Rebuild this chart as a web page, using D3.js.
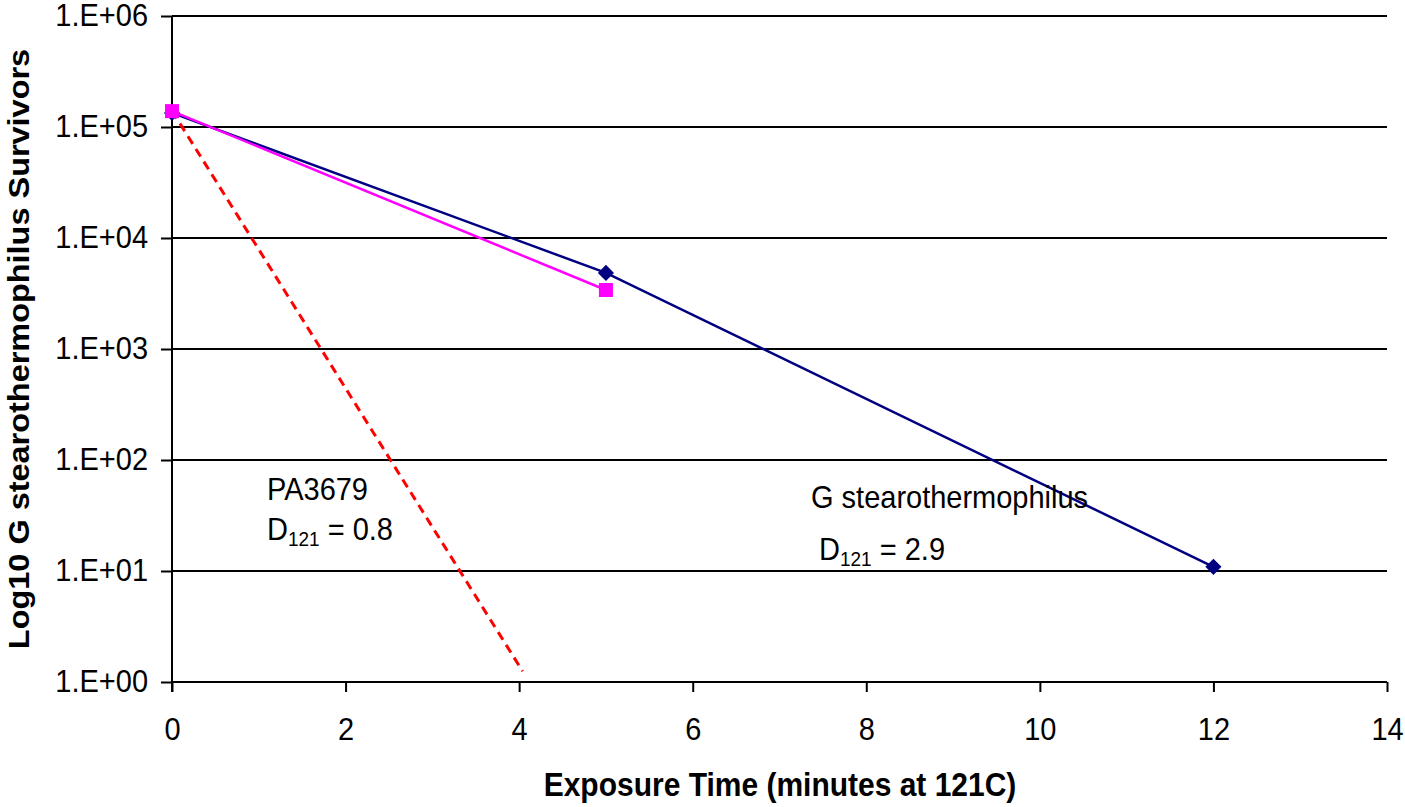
<!DOCTYPE html>
<html>
<head>
<meta charset="utf-8">
<script src="https://cdn.jsdelivr.net/npm/d3@7"></script>
<style>
  html, body { margin: 0; padding: 0; background: #fff; }
  svg { display: block; font-family: "Liberation Sans", Arial, sans-serif; }
</style>
</head>
<body>
<svg id="chart" width="1405" height="807"></svg>
<script>
// ---- data ----
const gsTime = [0, 5, 12];
const gsSurvivors = [1.34e5, 4.85e3, 10.9];
const pinkTime = [0, 5];
const pinkSurvivors = [1.39e5, 3.4e3];
const paTime = [0, 4.04];
const paSurvivors = [1.4e5, 1.25];
const xTicks = [0, 2, 4, 6, 8, 10, 12, 14];
const yTicks = [1, 10, 100, 1000, 10000, 100000, 1000000];
const yTickLabels = ["1.E+00", "1.E+01", "1.E+02", "1.E+03", "1.E+04", "1.E+05", "1.E+06"];
const xTitle = "Exposure Time (minutes at 121C)";
const yTitle = "Log10 G stearothermophilus Survivors";

// ---- layout ----
const SY = 1.1; // vertical stretch of glyphs
const FS = 29;
const svg = d3.select("#chart");
const x = d3.scaleLinear().domain([0, 14]).range([172, 1387]);
const y = d3.scaleLog().domain([1, 1e6]).range([682, 16]);

// gridlines
svg.append("g").selectAll("line").data(yTicks).join("line")
  .attr("x1", x(0)).attr("x2", x(14))
  .attr("y1", d => y(d)).attr("y2", d => y(d))
  .attr("stroke", "#000").attr("stroke-width", 2);

// y axis
const yAxis = svg.append("g").attr("transform", `translate(${x(0)},0)`)
  .call(d3.axisLeft(y).tickValues(yTicks).tickFormat((d, i) => yTickLabels[i]).tickSize(11).tickPadding(13));
yAxis.select(".domain").remove();
yAxis.append("line").attr("x1", 0).attr("x2", 0).attr("y1", y(1e6)).attr("y2", y(1) + 10)
  .attr("stroke", "#000").attr("stroke-width", 2);
yAxis.selectAll(".tick line").attr("stroke", "#000").attr("stroke-width", 2);
yAxis.selectAll(".tick text").attr("font-size", FS).attr("fill", "#000")
  .attr("font-family", "Liberation Sans, Arial, sans-serif")
  .attr("transform", `scale(1,1.05)`);

// x axis
const xAxis = svg.append("g").attr("transform", `translate(0,${y(1)})`)
  .call(d3.axisBottom(x).tickValues(xTicks).tickFormat(d3.format("d")).tickSize(10).tickPadding(22));
xAxis.select(".domain").remove();
xAxis.selectAll(".tick line").attr("stroke", "#000").attr("stroke-width", 2);
xAxis.selectAll(".tick text").attr("font-size", FS).attr("fill", "#000")
  .attr("font-family", "Liberation Sans, Arial, sans-serif")
  .attr("transform", `scale(1,${SY})`);

// series lines
const line = d3.line().x(d => x(d[0])).y(d => y(d[1]));
const paData = d3.zip(paTime, paSurvivors);
const gsData = d3.zip(gsTime, gsSurvivors);
const pinkData = d3.zip(pinkTime, pinkSurvivors);

svg.append("path").datum(paData).attr("d", line)
  .attr("fill", "none").attr("stroke", "#FF0000").attr("stroke-width", 3)
  .attr("stroke-dasharray", "9,6");
svg.append("path").datum(gsData).attr("d", line)
  .attr("fill", "none").attr("stroke", "#000080").attr("stroke-width", 2.5);
svg.append("path").datum(pinkData).attr("d", line)
  .attr("fill", "none").attr("stroke", "#FF00FF").attr("stroke-width", 2.5);

// markers
svg.append("g").selectAll("path").data(gsData).join("path")
  .attr("transform", d => `translate(${x(d[0])},${y(d[1])})`)
  .attr("d", d3.symbol(d3.symbolDiamond2, 165)())
  .attr("fill", "#000080");
svg.append("g").selectAll("rect").data(pinkData).join("rect")
  .attr("x", d => x(d[0]) - 7).attr("y", d => y(d[1]) - 7)
  .attr("width", 14).attr("height", 14)
  .attr("fill", "#FF00FF");

// annotations
function stretchedText(g, tx, ty, size, weight) {
  return g.append("text").attr("transform", `translate(${tx},${ty}) scale(1,${SY})`)
    .attr("font-size", size).attr("font-weight", weight || "normal").attr("fill", "#000");
}
const ann = svg.append("g");
stretchedText(ann, 267, 500, FS).text("PA3679");
let t = stretchedText(ann, 267, 540, FS);
t.append("tspan").text("D");
t.append("tspan").attr("font-size", 19).attr("dy", 5).text("121");
t.append("tspan").attr("dy", -5).text(" = 0.8");

stretchedText(ann, 811, 508, FS).text("G stearothermophilus");
t = stretchedText(ann, 811, 560, FS);
t.append("tspan").text("\u00a0D");
t.append("tspan").attr("font-size", 19).attr("dy", 5).text("121");
t.append("tspan").attr("dy", -5).text(" = 2.9");

// axis titles
svg.append("text")
  .attr("transform", `translate(780,796) scale(1,${SY})`)
  .attr("text-anchor", "middle").attr("font-size", 30).attr("font-weight", "bold")
  .text(xTitle);
svg.append("text")
  .attr("transform", `translate(29,349) rotate(-90) scale(${SY},1)`)
  .attr("text-anchor", "middle").attr("font-size", 29.5).attr("font-weight", "bold")
  .text(yTitle);
</script>
</body>
</html>
